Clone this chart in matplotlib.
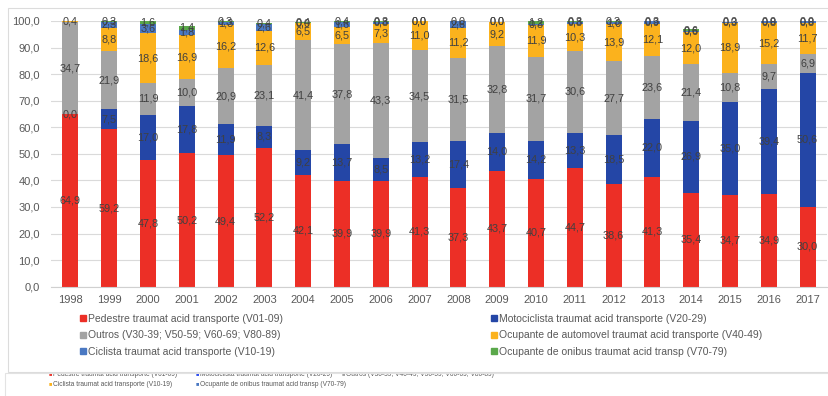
import matplotlib.pyplot as plt
from matplotlib.lines import Line2D
from matplotlib.patches import Rectangle

plt.rcParams["font.family"] = ["Liberation Sans", "DejaVu Sans"]

W, H = 829, 396

years = [str(y) for y in range(1998, 2018)]
pedestre = [64.9, 59.2, 47.8, 50.2, 49.4, 52.2, 42.1, 39.9, 39.9, 41.3,
            37.3, 43.7, 40.7, 44.7, 38.6, 41.3, 35.4, 34.7, 34.9, 30.0]
moto = [0.0, 7.5, 17.0, 17.8, 11.9, 8.3, 9.2, 13.7, 8.5, 13.2,
        17.4, 14.0, 14.2, 13.3, 18.5, 22.0, 26.9, 35.0, 39.4, 50.6]
outros = [34.7, 21.9, 11.9, 10.0, 20.9, 23.1, 41.4, 37.8, 43.3, 34.5,
          31.5, 32.8, 31.7, 30.6, 27.7, 23.6, 21.4, 10.8, 9.7, 6.9]
automovel = [0.4, 8.8, 18.6, 16.9, 16.2, 12.6, 6.5, 6.5, 7.3, 11.0,
             11.2, 9.2, 11.9, 10.3, 13.9, 12.1, 12.0, 18.9, 15.2, 11.7]
ciclista = [0.0, 2.3, 3.6, 1.8, 1.3, 2.6, 0.0, 1.6, 0.8, 0.0,
            2.6, 0.0, 0.3, 0.8, 1.0, 0.9, 0.6, 0.3, 0.8, 0.8]
onibus = [0.0, 0.3, 1.6, 1.4, 0.3, 0.4, 0.4, 0.4, 0.3, 0.0,
          0.0, 0.0, 1.2, 0.3, 0.3, 0.3, 0.6, 0.0, 0.0, 0.0]

series = [
    ("Pedestre traumat acid transporte (V01-09)", pedestre, "#ec2f26"),
    ("Motociclista traumat acid transporte (V20-29)", moto, "#2446a6"),
    ("Outros (V30-39; V50-59; V60-69; V80-89)", outros, "#a3a3a3"),
    ("Ocupante de automovel traumat acid transporte (V40-49)", automovel, "#fbb21d"),
    ("Ciclista traumat acid transporte (V10-19)", ciclista, "#4a78c2"),
    ("Ocupante de onibus traumat acid transp (V70-79)", onibus, "#5aa84a"),
]

TXT = "#404040"
TICK = "#595959"

fig = plt.figure(figsize=(W / 100, H / 100), dpi=100)
fig.patch.set_facecolor("white")


def fx(px):
    return px / W


def fy(py):
    return 1 - py / H


# lower strip: a second legend partly hidden under the chart panel
strip_rows = [
    (374, [(50, "#ec2f26", "Pedestre traumat acid transporte (V01-09)"),
           (197, "#2446f0", "Motociclista traumat acid transporte (V20-29)"),
           (343, "#9f9f9f", "Outros (V30-39; V40-49; V50-59; V60-69; V80-89)")]),
    (384, [(50, "#fbb21d", "Ciclista traumat acid transporte (V10-19)"),
           (197, "#4a78c2", "Ocupante de onibus traumat acid transp (V70-79)")]),
]
for py, items in strip_rows:
    for px, col, label in items:
        fig.text(fx(px), fy(py), "\u25a0", color=col, fontsize=4,
                 ha="center", va="center", zorder=-3)
        fig.text(fx(px + 3), fy(py), label, color=TICK, fontsize=4.8,
                 ha="left", va="center", zorder=-3)
fig.add_artist(Rectangle((fx(5), -0.01), 1, fy(373) + 0.01,
                         transform=fig.transFigure, facecolor="none",
                         edgecolor="#e3e3e3", lw=0.8, zorder=-2.5))

# main chart panel, drawn over the strip
fig.add_artist(Rectangle((fx(8), fy(372)), 1, fy(8) - fy(372),
                         transform=fig.transFigure, facecolor="white",
                         edgecolor="#dcdcdc", lw=0.8, zorder=-1))

ax = fig.add_axes([fx(51), fy(286.7), fx(827) - fx(51), fy(21) - fy(286.7)])
ax.set_facecolor("none")

x = range(len(years))
bottom = [0.0] * len(years)
handles = []
for label, vals, col in series:
    bars = ax.bar(x, vals, 0.41, bottom=bottom, color=col, zorder=2)
    ax.bar_label(bars, labels=[f"{v:.1f}".replace(".", ",") for v in vals],
                 label_type="center", fontsize=7.8, color=TXT, zorder=3)
    bottom = [b + v for b, v in zip(bottom, vals)]
    handles.append(Line2D([], [], marker="s", ls="none", color=col,
                          markersize=4, label=label))

ax.set_xlim(-0.5, len(years) - 0.5)
ax.set_ylim(0, 100)
ax.set_yticks(range(0, 101, 10))
ax.set_yticklabels([f"{v:.1f}".replace(".", ",") for v in range(0, 101, 10)])
ax.set_xticks(list(x))
ax.set_xticklabels(years)
ax.tick_params(length=0, labelsize=8, labelcolor=TICK)
ax.tick_params(axis="y", pad=8)
ax.tick_params(axis="x", pad=6)
ax.grid(axis="y", color="#dadada", lw=0.8, zorder=0)
for side in ["top", "right", "left"]:
    ax.spines[side].set_visible(False)
ax.spines["bottom"].set_color("#d0d0d0")

legend_cols = [(80, handles[0::2]), (491, handles[1::2])]
for px, hs in legend_cols:
    fig.legend(handles=hs, loc="upper left",
               bbox_to_anchor=(fx(px), fy(314)), frameon=False,
               fontsize=7.5, labelcolor=TICK, handlelength=0.5,
               handletextpad=0.3, labelspacing=0.62, borderpad=0,
               borderaxespad=0)

fig.savefig("out.png", dpi=100, facecolor="white")
